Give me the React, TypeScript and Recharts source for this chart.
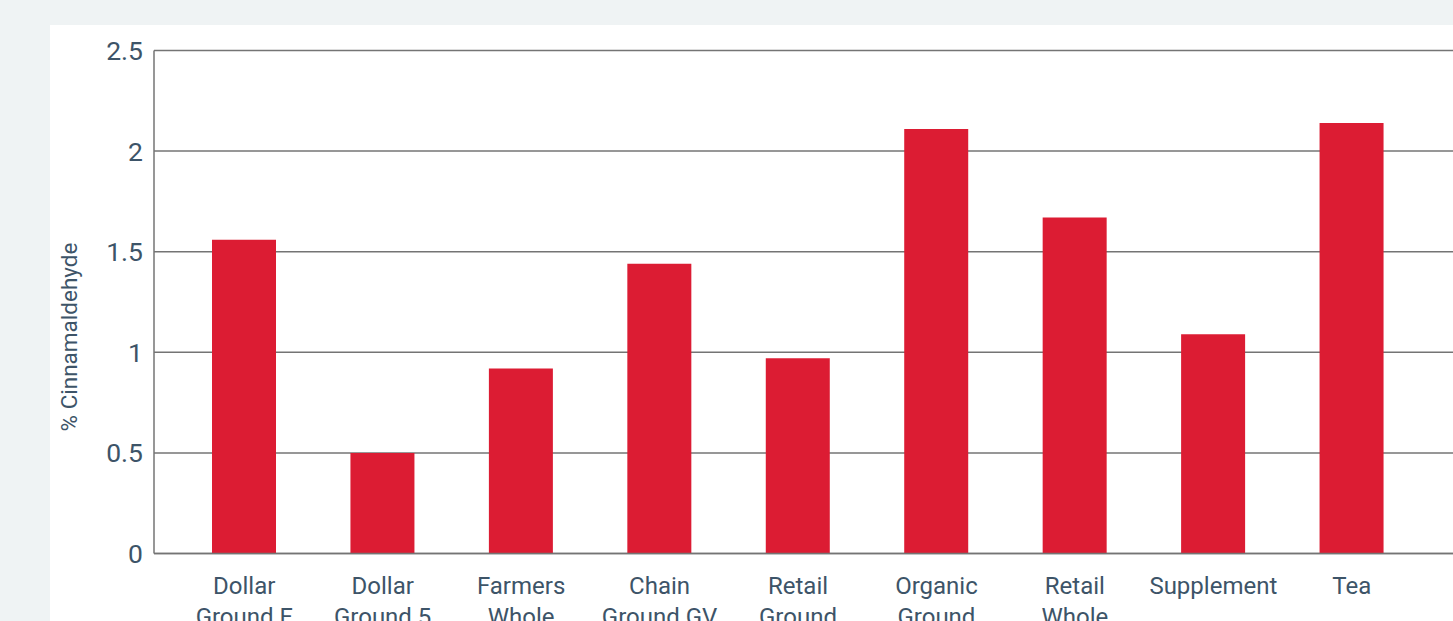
import React from "react";
import { BarChart, Bar, XAxis, YAxis, CartesianGrid, Label } from "recharts";

const categories = [
  "Dollar Ground F",
  "Dollar Ground 5",
  "Farmers Whole",
  "Chain Ground GV",
  "Retail Ground",
  "Organic Ground",
  "Retail Whole",
  "Supplement",
  "Tea",
];
const cinnamaldehyde = [1.56, 0.5, 0.92, 1.44, 0.97, 2.11, 1.67, 1.09, 2.14];
const yTicks = [0, 0.5, 1, 1.5, 2, 2.5];
const yLabel = "% Cinnamaldehyde";

const data = categories.map((name, i) => ({ name, value: cinnamaldehyde[i] }));

const TEXT = "#3d5468";
const GRID = "#747474";
const FONT = "Roboto, 'Open Sans', sans-serif";

const XTick = (props: any) => {
  const { x, y, payload } = props;
  const label: string = String(payload.value);
  const idx = label.indexOf(" ");
  const lines = idx > 0 ? [label.slice(0, idx), label.slice(idx + 1)] : [label];
  return (
    <text x={x} y={y} textAnchor="middle" fill={TEXT} fontSize={24} fontFamily={FONT}>
      {lines.map((l, i) => (
        <tspan key={i} x={x} dy={i === 0 ? 40 : 31}>
          {l}
        </tspan>
      ))}
    </text>
  );
};

const YLabel = (props: any) => {
  const vb = props.viewBox || { x: 0, y: 0, width: 0, height: 0 };
  const cx = vb.x + 27;
  const cy = vb.y + vb.height / 2 + 35;
  return (
    <text
      x={cx}
      y={cy}
      textAnchor="middle"
      transform={`rotate(-90, ${cx}, ${cy})`}
      fill={TEXT}
      fontSize={22.5}
      fontFamily={FONT}
    >
      {yLabel}
    </text>
  );
};

export default function App() {
  return (
    <div
      style={{
        position: "fixed",
        left: 0,
        top: 0,
        width: 1453,
        height: 621,
        background: "#eff3f4",
        overflow: "hidden",
        fontFamily: FONT,
      }}
    >
      <div
        style={{
          position: "absolute",
          left: 50,
          top: 25,
          width: 1500,
          height: 700,
          background: "#ffffff",
        }}
      >
        <BarChart
          width={1450}
          height={700}
          data={data}
          margin={{ top: 25.5, right: 0, bottom: 111.5, left: 0 }}
        >
          <CartesianGrid vertical={false} stroke={GRID} strokeWidth={1.5} strokeDasharray="" />
          <XAxis
            dataKey="name"
            interval={0}
            height={60}
            tickLine={false}
            tickSize={0}
            tickMargin={0}
            axisLine={{ stroke: GRID, strokeWidth: 1.5 }}
            padding={{ left: 21, right: 79 }}
            tick={<XTick />}
          />
          <YAxis
            width={104}
            domain={[0, 2.5]}
            ticks={yTicks}
            tickLine={false}
            tickSize={0}
            tickMargin={11}
            axisLine={{ stroke: GRID, strokeWidth: 1.5 }}
            tick={{ fill: TEXT, fontSize: 26.5, fontFamily: FONT }}
          >
            <Label content={<YLabel />} />
          </YAxis>
          <Bar dataKey="value" fill="#dc1c33" barSize={64} isAnimationActive={false} />
        </BarChart>
      </div>
    </div>
  );
}
